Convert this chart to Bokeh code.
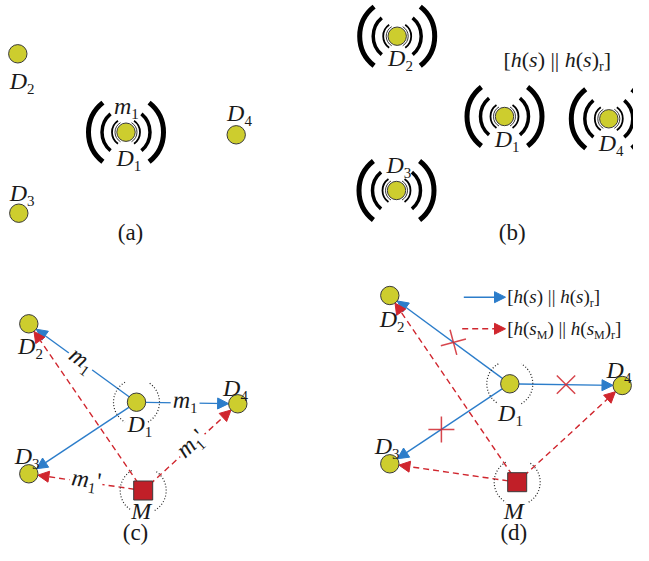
import glob, math
from bokeh.plotting import figure
from bokeh.models import ColumnDataSource, Range1d, Arrow, NormalHead
from bokeh.core.properties import value
from bokeh.embed import file_html
from bokeh.resources import INLINE

try:
    from PIL import ImageFont
except Exception:
    ImageFont = None

# ------------------------------------------------------------------ data
# node order in every panel: D1, D2, D3, D4
NODE_SUB = ["1", "2", "3", "4"]

# panel (a)
A_X = [125.5, 17.3, 18.3, 235.7]
A_Y = [131.7, 53.3, 212.7, 134.3]
A_LX = [128.3, 21.7, 21.7, 239.0]
A_LY = [165.0, 88.3, 200.0, 120.0]
A_MSG = (125.8, 113.3)              # "m1" above D1

# panel (b)
B_X = [504.0, 396.7, 396.0, 608.3]
B_Y = [116.0, 35.7, 190.0, 118.3]
B_LX = [506.7, 400.0, 398.3, 610.7]
B_LY = [146.7, 65.0, 172.0, 150.0]
B_HASH = (556.7, 66.7)              # "[h(s) || h(s)r]"

# panel (c)
C_X = [136.0, 28.3, 28.3, 237.3]
C_Y = [401.7, 323.3, 473.3, 403.3]
C_LX = [139.3, 30.0, 26.7, 235.0]
C_LY = [431.7, 353.3, 463.3, 395.5]
C_M = (142.7, 490.0)
C_ML = (140.7, 518.3)
# labels on the links
C_LINKLAB_FROM = ["D1", "D1", "M", "M"]
C_LINKLAB_TO = [1, 3, 2, 3]         # index of target node
C_LINKLAB_T = [0.52, 0.48, 0.50, 0.52]
C_LINKLAB_PRIME = [False, False, True, True]

# panel (d)
D_X = [509.3, 389.3, 389.3, 621.7]
D_Y = [383.3, 295.0, 463.3, 385.0]
D_LX = [510.0, 391.7, 386.7, 618.5]
D_LY = [420.0, 326.7, 453.3, 377.5]
D_M = (516.7, 481.7)
D_ML = (513.3, 518.3)
CROSS_TO = [1, 2, 3]                # blocked links D1->D2, D1->D3, D1->D4
CROSS_T = [0.47, 0.57, 0.50]
CROSS_MARK = ["cross", "cross", "x"]
CROSS_ANGLE = [15, 0, 0]
LEG_X0 = [463.3, 461.7]
LEG_X1 = [505.0, 505.0]
LEG_Y = [296.7, 328.3]
LEG_TX = [506.7, 506.7]
LEG_TY = [302.0, 334.0]

PANEL_TAGS = ["(a)", "(b)", "(c)", "(d)"]
PANEL_TX = [130.0, 511.7, 135.0, 513.3]
PANEL_TY = [239.5, 240.0, 539.5, 539.5]

# ------------------------------------------------------------------ style
SERIF = "Liberation Serif"
YEL = "#cdcd2e"
EDGE = "#3a3a3a"
BLUE = "#2c7dca"
RED = "#d0262e"
SQR = "#c11f28"
NODE_R = 9.2
MAIN = 24
SUB = 15
SUB_DY = 5
BASE_FIX = 0.33   # renderer places the 'alphabetic' anchor ~0.33em too low

_font_cache = {}
_paths = {}
for key, fname in [("italic", "LiberationSerif-Italic.ttf"), ("normal", "LiberationSerif-Regular.ttf")]:
    found = glob.glob("/usr/share/fonts/**/" + fname, recursive=True) + glob.glob("/usr/local/share/fonts/**/" + fname, recursive=True)
    _paths[key] = found[0] if found else None


def measure(txt, style, size):
    if ImageFont is not None and _paths.get(style):
        k = (style, size)
        if k not in _font_cache:
            _font_cache[k] = ImageFont.truetype(_paths[style], size)
        return _font_cache[k].getlength(txt)
    return 0.5 * size * len(txt)


T = dict(x=[], y=[], text=[], style=[], size=[], angle=[])


def rich(cx, cy, runs, size=MAIN, sub=SUB, sub_dy=SUB_DY, angle=0.0, align="center"):
    pieces = []
    for txt, kind in runs:
        if kind == "sub":
            pieces.append((txt, "normal", sub, sub_dy))
        elif kind == "it":
            pieces.append((txt, "italic", size, 0))
        else:
            pieces.append((txt, "normal", size, 0))
    widths = [measure(t, st, sz) for t, st, sz, _ in pieces]
    total = sum(widths)
    pos = -total / 2 if align == "center" else 0.0
    ca, sa = math.cos(angle), math.sin(angle)
    for (t, st, sz, dy), w in zip(pieces, widths):
        d = dy - BASE_FIX * sz
        T["x"].append(cx + pos * ca + d * sa)
        T["y"].append(cy - pos * sa + d * ca)
        T["text"].append(t)
        T["style"].append(st)
        T["size"].append(f"{sz}px")
        T["angle"].append(angle)
        pos += w
    return total


p = figure(width=633, height=545, x_range=Range1d(0, 633), y_range=Range1d(545, 0),
           output_backend="svg", toolbar_location=None, min_border=0,
           x_axis_location=None, y_axis_location=None)
p.grid.visible = False
p.outline_line_color = None
p.background_fill_color = "white"
p.border_fill_color = "white"

# ------------------------------------------------------------ wifi arcs
WIFI_R = [37.5, 24, 14, 11]
WIFI_W = [5.0, 3.5, 1.8, 0.8]
WIFI_H = [52, 50, 55, 60]
wx, wy = [A_X[0]] + B_X, [A_Y[0]] + B_Y
for r, w, h in zip(WIFI_R, WIFI_W, WIFI_H):
    hr = math.radians(h)
    p.arc(x=wx, y=wy, radius=r, start_angle=-hr, end_angle=hr, line_color="black", line_width=w)
    p.arc(x=wx, y=wy, radius=r, start_angle=math.pi - hr, end_angle=math.pi + hr, line_color="black", line_width=w)

# dotted arcs around D1 and M in (c), (d)
dx_ = [C_X[0], C_M[0], D_X[0], D_M[0]]
dy_ = [C_Y[0], C_M[1], D_Y[0], D_M[1]]
hr = math.radians(60)
for a0, a1 in [(-hr, hr), (math.pi - hr, math.pi + hr)]:
    p.arc(x=dx_, y=dy_, radius=23, start_angle=a0, end_angle=a1, line_color="#222222",
          line_width=1.2, line_dash="1 2")


# ------------------------------------------------------------ links
def shorten(x0, y0, x1, y1, s0, s1):
    L = math.hypot(x1 - x0, y1 - y0)
    ux, uy = (x1 - x0) / L, (y1 - y0) / L
    return x0 + ux * s0, y0 + uy * s0, x1 - ux * s1, y1 - uy * s1


def add_arrows(segs, color, dash):
    src = ColumnDataSource(dict(x0=[s[0] for s in segs], y0=[s[1] for s in segs],
                                x1=[s[2] for s in segs], y1=[s[3] for s in segs]))
    head = NormalHead(size=11, fill_color=color, line_color=color, line_width=1)
    p.add_layout(Arrow(end=head, x_start="x0", y_start="y0", x_end="x1", y_end="y1",
                       source=src, line_color=color, line_width=1.4, line_dash=dash,
                       level="underlay"))


blue, red = [], []
for NX, NY, MM in [(C_X, C_Y, C_M), (D_X, D_Y, D_M)]:
    for k in (1, 2, 3):
        blue.append(shorten(NX[0], NY[0], NX[k], NY[k], NODE_R, NODE_R))
        red.append(shorten(MM[0], MM[1], NX[k], NY[k], 9, NODE_R))
for x0, x1, yy, col in zip(LEG_X0, LEG_X1, LEG_Y, ["b", "r"]):
    (blue if col == "b" else red).append((x0, yy, x1, yy))
add_arrows(blue, BLUE, "solid")
add_arrows(red, RED, "6 4")

# ------------------------------------------------------------ nodes
all_x = A_X + B_X + C_X + D_X
all_y = A_Y + B_Y + C_Y + D_Y
p.circle(x=all_x, y=all_y, radius=NODE_R, fill_color=YEL, line_color=EDGE, line_width=1)
p.scatter(x=[C_M[0], D_M[0]], y=[C_M[1], D_M[1]], marker="square", size=19,
          fill_color=SQR, line_color=EDGE, line_width=1)

# crosses on blocked links in (d)
cxs, cys = [], []
for k, t in zip(CROSS_TO, CROSS_T):
    cxs.append(D_X[0] + (D_X[k] - D_X[0]) * t)
    cys.append(D_Y[0] + (D_Y[k] - D_Y[0]) * t)
p.scatter(x=cxs, y=cys, marker=CROSS_MARK, angle=[math.radians(a) for a in CROSS_ANGLE],
          size=26, line_color=RED, line_alpha=0.85, line_width=1.5, fill_color=None)

# ------------------------------------------------------------ labels
for LX, LY in [(A_LX, A_LY), (B_LX, B_LY), (C_LX, C_LY), (D_LX, D_LY)]:
    for lx, ly, s in zip(LX, LY, NODE_SUB):
        rich(lx, ly, [("D", "it"), (s, "sub")])
rich(A_MSG[0], A_MSG[1], [("m", "it"), ("1", "sub")])
rich(C_ML[0], C_ML[1], [("M", "it")])
rich(D_ML[0], D_ML[1], [("M", "it")])
for tag, tx, ty in zip(PANEL_TAGS, PANEL_TX, PANEL_TY):
    rich(tx, ty, [(tag, "up")], size=23)

HS = [("[", "up"), ("h", "it"), ("(", "up"), ("s", "it"), (") || ", "up"), ("h", "it"),
      ("(", "up"), ("s", "it"), (")", "up"), ("r", "sub"), ("]", "up")]
HSM = [("[", "up"), ("h", "it"), ("(", "up"), ("s", "it"), ("M", "sub"), (") || ", "up"), ("h", "it"),
       ("(", "up"), ("s", "it"), ("M", "sub"), (")", "up"), ("r", "sub"), ("]", "up")]
rich(B_HASH[0], B_HASH[1], HS, size=22, sub=14, sub_dy=4)
rich(LEG_TX[0], LEG_TY[0], HS, size=19, sub=12, sub_dy=4, align="left")
rich(LEG_TX[1], LEG_TY[1], HSM, size=19, sub=12, sub_dy=4, align="left")

# labels along links in (c), with white patches under them
rx, ry, rw, ra = [], [], [], []
for frm, to, t, prime in zip(C_LINKLAB_FROM, C_LINKLAB_TO, C_LINKLAB_T, C_LINKLAB_PRIME):
    x0, y0 = (C_X[0], C_Y[0]) if frm == "D1" else C_M
    x1, y1 = C_X[to], C_Y[to]
    mx, my = x0 + (x1 - x0) * t, y0 + (y1 - y0) * t
    ang = math.atan2(-(y1 - y0), x1 - x0)
    if ang > math.pi / 2:
        ang -= math.pi
    elif ang < -math.pi / 2:
        ang += math.pi
    runs = [("m", "it"), ("1", "sub")] + ([("'", "up")] if prime else [])
    bx, by = mx + 5 * math.sin(ang), my + 5 * math.cos(ang)
    w = rich(bx, by, runs, angle=ang)
    rx.append(mx); ry.append(my); rw.append(w + 4); ra.append(ang)
p.rect(x=rx, y=ry, width=rw, height=14, angle=ra, fill_color="white", line_color=None)

ts = ColumnDataSource(T)
p.text(x="x", y="y", text="text", angle="angle", source=ts, text_font=value(SERIF),
       text_font_style="style", text_font_size="size", text_color="#1a1a1a",
       text_align="left", text_baseline="alphabetic")

open("out.html", "w").write(file_html(p, INLINE))
